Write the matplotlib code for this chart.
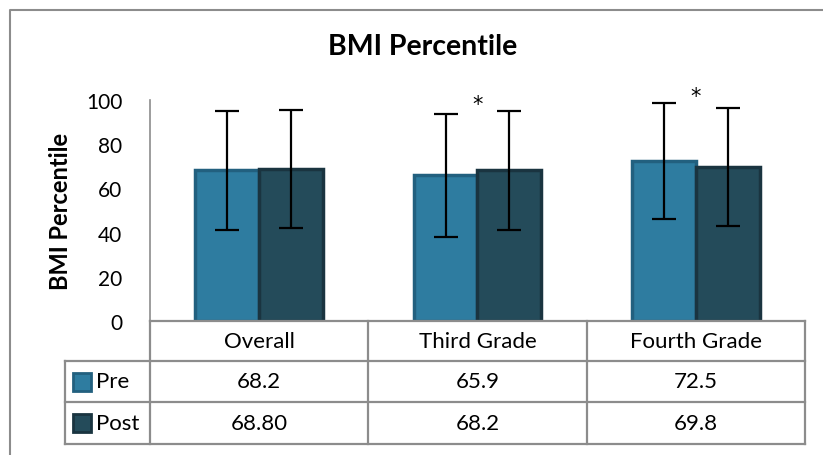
import numpy as np
import matplotlib
matplotlib.use("Agg")
import matplotlib.pyplot as plt
from matplotlib.patches import Rectangle
from matplotlib.lines import Line2D

categories = ['Overall', 'Third Grade', 'Fourth Grade']
pre = [68.2, 65.9, 72.5]
post = [68.8, 68.2, 69.8]
pre_err = [27.0, 27.7, 26.3]
post_err = [26.8, 27.0, 26.7]
pre_labels = ['68.2', '65.9', '72.5']
post_labels = ['68.80', '68.2', '69.8']
signif = [False, True, True]
yticks = [0, 20, 40, 60, 80, 100]

plt.rcParams['font.family'] = ['Lato', 'DejaVu Sans']

pre_face, pre_edge = '#2e7ca0', '#22607f'
post_face, post_edge = '#244b5a', '#1a3440'
grey = '#8c8c8c'

W, H = 823, 456
fig = plt.figure(figsize=(W / 100, H / 100), dpi=100)
L, R, B, T = 150, 805, 322, 101
ax = fig.add_axes([L / W, 1 - B / H, (R - L) / W, (B - T) / H])

def ax_x(px):
    return (px - L) / (R - L)

def ax_y(py):
    return (B - py) / (B - T)

x = np.arange(len(categories))
w = 0.292
ax.bar(x - w / 2, pre, w, color=pre_face, edgecolor=pre_edge, linewidth=2.5, zorder=2)
ax.bar(x + w / 2, post, w, color=post_face, edgecolor=post_edge, linewidth=2.5, zorder=2)
ax.errorbar(x - w / 2, pre, yerr=pre_err, fmt='none', ecolor='black',
            elinewidth=1.6, capsize=8.5, capthick=1.6, zorder=3)
ax.errorbar(x + w / 2, post, yerr=post_err, fmt='none', ecolor='black',
            elinewidth=1.6, capsize=8.5, capthick=1.6, zorder=3)

for i, s in enumerate(signif):
    if s:
        top = max(pre[i] + pre_err[i], post[i] + post_err[i])
        ax.text(x[i], top + 3.2, '*', ha='center', va='center', fontsize=15,
                family='DejaVu Sans', clip_on=False)

ax.set_xlim(-0.5, len(categories) - 0.5)
ax.set_ylim(0, 100)
ax.set_yticks(yticks)
ax.tick_params(axis='y', length=0, labelsize=15, pad=20)
ax.set_xticks([])
for side in ['top', 'right', 'bottom']:
    ax.spines[side].set_visible(False)
ax.spines['left'].set_color(grey)
ax.spines['left'].set_linewidth(1.2)
ax.set_ylabel('BMI Percentile', fontsize=17, fontweight='bold')
ax.yaxis.set_label_coords(ax_x(72), 0.5)

fig.text(423 / W, 1 - 47 / H, 'BMI Percentile', ha='center', va='center',
         fontsize=20.5, fontweight='bold')

# data table under the plot
n = len(categories)
rows_y = [322, 362, 403, 445]
tl = 65
line_kw = dict(color=grey, linewidth=1.6, transform=ax.transAxes, clip_on=False)
ax.plot([0, 1], [ax_y(rows_y[0])] * 2, **line_kw)
for py in rows_y[1:]:
    ax.plot([ax_x(tl), 1], [ax_y(py)] * 2, **line_kw)
ax.plot([ax_x(tl)] * 2, [ax_y(rows_y[1]), ax_y(rows_y[-1])], **line_kw)
for k in range(n + 1):
    ax.plot([k / n] * 2, [ax_y(rows_y[0]), ax_y(rows_y[-1])], **line_kw)

row_mid = [(rows_y[j] + rows_y[j + 1]) / 2 for j in range(3)]
for c in range(n):
    xc = (c + 0.5) / n
    ax.text(xc, ax_y(row_mid[0]), categories[c], ha='center', va='center',
            fontsize=16, transform=ax.transAxes)
    ax.text(xc, ax_y(row_mid[1]), pre_labels[c], ha='center', va='center',
            fontsize=16, transform=ax.transAxes)
    ax.text(xc, ax_y(row_mid[2]), post_labels[c], ha='center', va='center',
            fontsize=16, transform=ax.transAxes)

for r, (name, fc, ec) in enumerate([('Pre', pre_face, pre_edge), ('Post', post_face, post_edge)]):
    yc = row_mid[r + 1]
    ax.add_patch(Rectangle((ax_x(73), ax_y(yc + 9)), 18 / (R - L), 18 / (B - T),
                           facecolor=fc, edgecolor=ec, linewidth=2,
                           transform=ax.transAxes, clip_on=False))
    ax.text(ax_x(96), ax_y(yc), name, ha='left', va='center', fontsize=16,
            transform=ax.transAxes)

fig.add_artist(Line2D([9.5 / W, 9.5 / W, 1], [0, 1 - 11 / H, 1 - 11 / H],
                      color=grey, linewidth=1.5))

fig.savefig('out.png', dpi=100)
